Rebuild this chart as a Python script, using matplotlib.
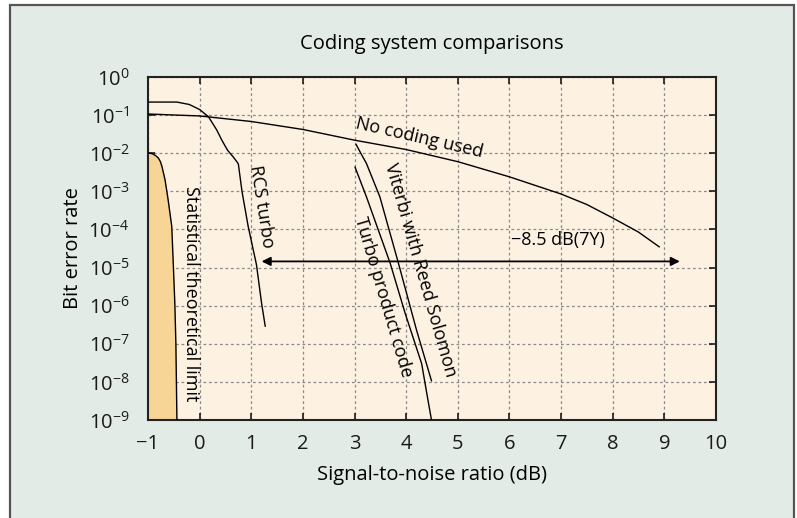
import matplotlib
matplotlib.use("Agg")
import matplotlib.pyplot as plt
from matplotlib.patches import Rectangle
from matplotlib.ticker import FixedLocator, NullLocator

plt.rcParams['font.family'] = ['Open Sans', 'DejaVu Sans']
plt.rcParams['mathtext.fontset'] = 'custom'
plt.rcParams['mathtext.rm'] = 'Open Sans'
plt.rcParams['mathtext.it'] = 'Open Sans:italic'
plt.rcParams['mathtext.bf'] = 'Open Sans:bold'

# values
theory_x = [-1.0, -0.97, -0.93, -0.89, -0.85, -0.80, -0.76, -0.73, -0.70, -0.67, -0.64, -0.61,
            -0.54, -0.51, -0.48, -0.46, -0.45, -0.44]
theory_y = [1.0e-2, 1.0e-2, 9.8e-3, 9.3e-3, 8.6e-3, 7.5e-3, 6.0e-3, 4.5e-3, 3.0e-3, 2.0e-3, 1.1e-3, 6.0e-4,
            1.2e-4, 1.2e-5, 1.1e-6, 1.0e-7, 1.0e-8, 1.0e-9]

rcs_x = [-1.0, -0.44, -0.20, 0.0, 0.17, 0.33, 0.43, 0.54, 0.65, 0.72, 0.75,
         0.82, 0.94, 1.10, 1.20, 1.27]
rcs_y = [0.22, 0.22, 0.19, 0.14, 0.091, 0.041, 0.022, 0.012, 8.0e-3, 6.0e-3, 5.2e-3,
         1.0e-3, 1.2e-4, 1.2e-5, 1.15e-6, 2.9e-7]

nocode_x = [-1.0, 0.0, 1.0, 2.0, 3.0, 4.0, 5.0, 6.0, 7.0, 7.5, 8.0, 8.5, 8.9]
nocode_y = [0.107, 0.095, 0.068, 0.042, 0.022, 0.0125, 6.0e-3, 2.4e-3, 8.5e-4, 4.5e-4,
            2.0e-4, 8.5e-5, 3.5e-5]

tpc_x = [3.01, 3.23, 3.69, 3.98, 4.30, 4.41, 4.49]
tpc_y = [4.3e-3, 7.2e-4, 1.3e-5, 6.3e-7, 3.0e-8, 4.1e-9, 1.0e-9]

vit_x = [3.03, 3.13, 3.23, 3.49, 3.85, 4.20, 4.49]
vit_y = [1.7e-2, 9.5e-3, 5.4e-3, 7.2e-4, 1.3e-5, 2.3e-7, 1.07e-8]

arrow_x = [1.20, 9.30]
arrow_y = 1.45e-5

x_ticks = [-1, 0, 1, 2, 3, 4, 5, 6, 7, 8, 9, 10]
y_exps = [0, -1, -2, -3, -4, -5, -6, -7, -8, -9]

BOX_BG = '#e3ebe6'
PLOT_BG = '#fdf1e2'
FILL = '#f7d597'


def draw():
    fig = plt.figure(figsize=(7.97, 5.18), dpi=100)
    fig.patch.set_facecolor('white')
    fig.patches.append(Rectangle((10 / 797, -0.05), 784 / 797, 1.05 - 5 / 518,
                                 transform=fig.transFigure, facecolor=BOX_BG,
                                 edgecolor='#555555', linewidth=1.6, zorder=-10))

    ax = fig.add_axes([148 / 797, 1 - 420 / 518, 568 / 797, 343 / 518])
    ax.set_facecolor(PLOT_BG)
    ax.set_yscale('log')
    ax.set_xlim(-1, 10)
    ax.set_ylim(1e-9, 1)

    ax.xaxis.set_major_locator(FixedLocator(x_ticks))
    ax.set_xticklabels(['\u22121'] + [str(t) for t in x_ticks[1:]])
    ax.yaxis.set_major_locator(FixedLocator([10.0 ** e for e in y_exps]))
    ax.set_yticklabels(['$10^{%d}$' % e for e in y_exps])
    ax.yaxis.set_minor_locator(NullLocator())

    ax.tick_params(direction='in', length=5, width=1.2, top=True, right=True,
                   labelsize=14.5, colors='#1a1a1a')
    ax.tick_params(axis='y', pad=13.5)
    ax.tick_params(axis='x', pad=10)
    for s in ax.spines.values():
        s.set_linewidth(1.5)
        s.set_color('#222222')

    ax.grid(True, which='major', color='#8a8a8a', linestyle=(0, (2.2, 2.2)), linewidth=0.9)
    ax.set_axisbelow(True)

    ax.fill_betweenx(theory_y, -1, theory_x, color=FILL, linewidth=0, zorder=1)
    ax.plot(theory_x, theory_y, color='black', lw=1.0, zorder=3)
    ax.plot(rcs_x, rcs_y, color='black', lw=1.0, zorder=3)
    ax.plot(nocode_x, nocode_y, color='black', lw=1.0, zorder=3)
    ax.plot(tpc_x, tpc_y, color='black', lw=1.0, zorder=3)
    ax.plot(vit_x, vit_y, color='black', lw=1.0, zorder=3)

    ax.annotate('', xy=(arrow_x[0], arrow_y), xytext=(arrow_x[1], arrow_y),
                arrowprops=dict(arrowstyle='<|-|>', color='black', lw=1.3,
                                mutation_scale=13, shrinkA=0, shrinkB=0), zorder=4)
    ax.text(6.94, 5.2e-5, '\u22128.5 dB(7Y)', fontsize=13, ha='center', va='center')

    ax.text(-0.16, 2.1e-6, 'Statistical theoretical limit', fontsize=13, rotation=-90,
            ha='center', va='center')
    ax.text(1.20, 3.9e-4, 'RCS turbo', fontsize=13, rotation=-81, ha='center', va='center')
    ax.text(3.56, 1.7e-6, 'Turbo product code', fontsize=13, rotation=-73.5,
            ha='center', va='center')
    ax.text(4.28, 8.5e-6, 'Viterbi with Reed Solomon', fontsize=13, rotation=-74,
            ha='center', va='center')
    ax.text(4.25, 2.6e-2, 'No coding used', fontsize=13, rotation=-13,
            ha='center', va='center')

    ax.set_title('Coding system comparisons', fontsize=14.5, pad=20)
    ax.set_xlabel('Signal-to-noise ratio (dB)', fontsize=14.5, labelpad=8)
    ax.set_ylabel('Bit error rate', fontsize=14.5, labelpad=4)

    fig.savefig('out.png', dpi=100, facecolor=fig.get_facecolor())


if __name__ == '__main__':
    draw()
